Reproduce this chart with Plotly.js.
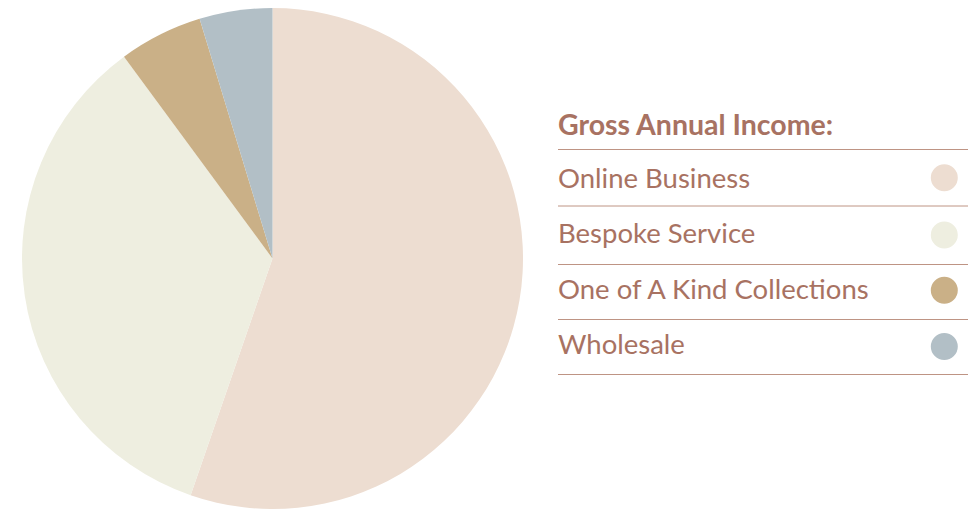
<!DOCTYPE html>
<html>
<head>
<meta charset="utf-8">
<script src="https://cdn.plot.ly/plotly-3.0.1.min.js"></script>
<style>html,body{margin:0;padding:0;background:#fff;}#chart{width:975px;height:509px;}</style>
</head>
<body>
<div id="chart"></div>
<script>
var categories = ["Online Business", "Bespoke Service", "One of A Kind Collections", "Wholesale"];
var values = [55.3, 34.6, 5.4, 4.7];
var colors = ["#EDDDD1", "#EEEEE0", "#CAB087", "#B2BFC6"];
var legendTitle = "Gross Annual Income:";

var W = 975, H = 509;
var textColor = "#A87262";
var lineColor = "#BE9484";
var fontFam = "Lato, 'Open Sans', sans-serif";

var trace = {
  type: "pie",
  labels: categories,
  values: values,
  sort: false,
  direction: "clockwise",
  rotation: 0,
  marker: {colors: colors, line: {width: 0}},
  textinfo: "none",
  hoverinfo: "label+percent",
  showlegend: false,
  domain: {x: [21.5 / W, 523.5 / W], y: [0, 1 - 8 / H]}
};

// legend layout (pixel positions converted to paper coords)
var lineYs = [149.5, 206, 264.5, 319.5, 374.5];
var rowYs = [177, 233, 288, 343];
var circYs = [177.7, 235, 290.3, 346.5];
function py(y) { return 1 - y / H; }
function px(x) { return x / W; }

var shapes = [];
var annotations = [];
lineYs.forEach(function (y) {
  shapes.push({type: "line", xref: "paper", yref: "paper",
    x0: px(558), x1: px(968), y0: py(y), y1: py(y),
    line: {color: lineColor, width: 1}});
});
categories.forEach(function (c, i) {
  annotations.push({xref: "paper", yref: "paper", x: px(555.5), y: py(rowYs[i]),
    xanchor: "left", yanchor: "middle", showarrow: false, text: c,
    font: {family: fontFam, size: 27.5, color: textColor}});
  shapes.push({type: "circle", xref: "paper", yref: "paper",
    x0: px(944.3 - 13.5), x1: px(944.3 + 13.5),
    y0: py(circYs[i] + 13.5), y1: py(circYs[i] - 13.5),
    fillcolor: colors[i], line: {width: 0}});
});
annotations.push({xref: "paper", yref: "paper", x: px(555.5), y: py(123.5),
  xanchor: "left", yanchor: "middle", showarrow: false, text: "<b>" + legendTitle + "</b>",
  font: {family: fontFam, size: 28.5, color: textColor}});

var layout = {
  width: W, height: H,
  margin: {l: 0, r: 0, t: 0, b: 0},
  paper_bgcolor: "#ffffff",
  plot_bgcolor: "#ffffff",
  shapes: shapes,
  annotations: annotations,
  showlegend: false
};
Plotly.newPlot("chart", [trace], layout, {displayModeBar: false, staticPlot: true});
</script>
</body>
</html>
